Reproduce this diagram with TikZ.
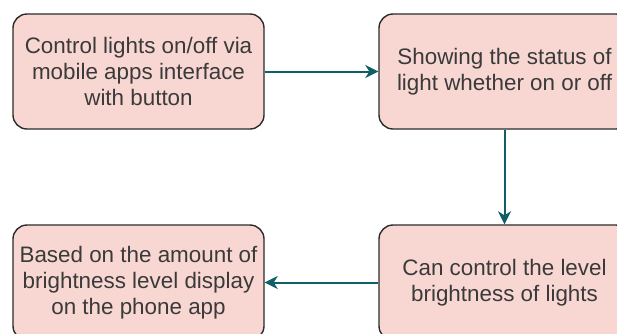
\documentclass[tikz,border=0pt]{standalone}
\usepackage{fontspec}
\setmainfont{Liberation Sans}
\usetikzlibrary{arrows.meta}
\definecolor{boxfill}{HTML}{F8D7D3}
\definecolor{boxline}{HTML}{2B2B2B}
\definecolor{arrowcol}{HTML}{0F5F66}
\definecolor{txt}{HTML}{3A3A3A}
\tikzset{
  stepbox/.style={draw=boxline, fill=boxfill, line width=1.4pt, rounded corners=14pt,
    minimum width=251pt, minimum height=115pt, inner sep=0pt, align=center,
    text=txt, font=\fontsize{22.4pt}{26pt}\selectfont},
  flow/.style={draw=arrowcol, line width=2pt, -{Stealth[length=13pt,width=13pt,inset=4pt]}}
}
\begin{document}
\begin{tikzpicture}[x=1pt,y=1pt]
\useasboundingbox (0,0) rectangle (617,-333);
\clip (0,0) rectangle (617,-333);
\node[stepbox] (a) at (138.5,-71.5) {Control lights on/off via\\mobile apps interface\\with button};
\node[stepbox] (b) at (504.5,-71.5) {Showing the status of\\light whether on or off};
\node[stepbox] (c) at (504.5,-282.5) {Can control the level\\brightness of lights};
\node[stepbox] (d) at (138.5,-282.5) {Based on the amount of\\brightness level display\\on the phone app};
\draw[flow] (a) -- (b);
\draw[flow] (b) -- (c);
\draw[flow] (c) -- (d);
\end{tikzpicture}
\end{document}
